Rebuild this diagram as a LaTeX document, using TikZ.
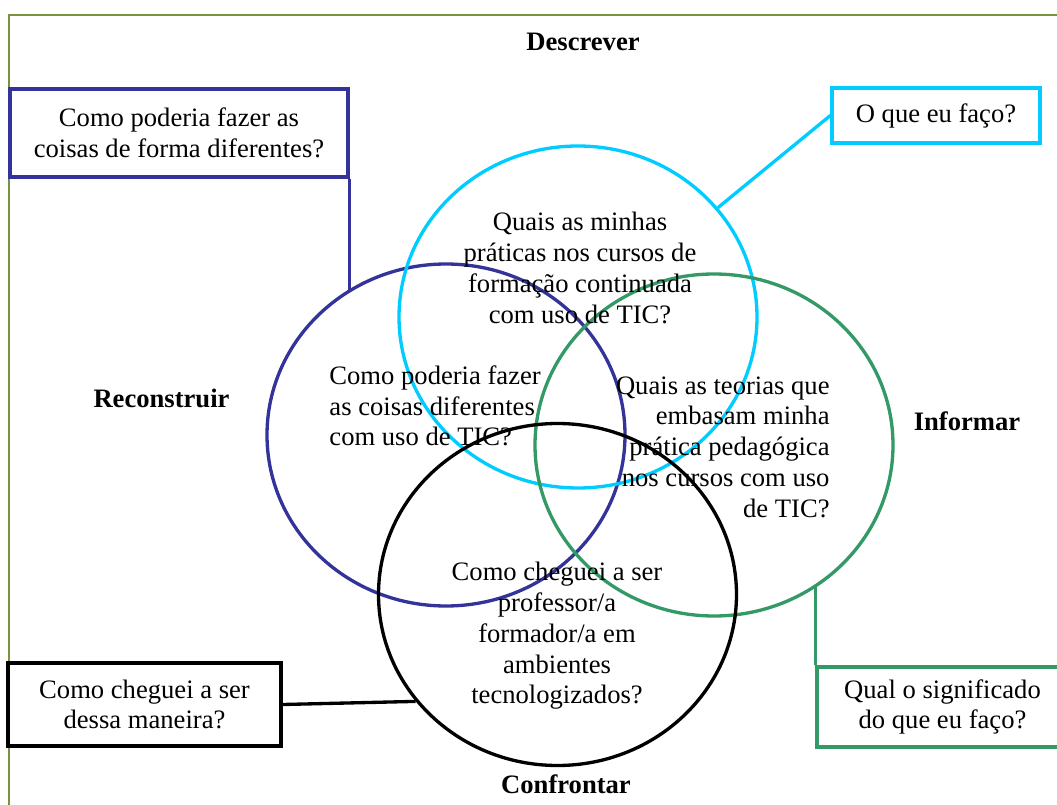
\documentclass[tikz,border=0pt]{standalone}
\usepackage{fontspec}
\setmainfont{Liberation Serif}
\usetikzlibrary{shapes.geometric}
\definecolor{indigo}{HTML}{333399}
\definecolor{sky}{HTML}{00CCFF}
\definecolor{jade}{HTML}{339966}
\definecolor{moss}{HTML}{77933C}
\newcommand\pxu{0.451pt}

\begin{document}
\begin{tikzpicture}[x=0.451pt, y=-0.451pt,
  txt/.style={font=\fontsize{12}{13.85}\selectfont, inner sep=0pt},
  lbl/.style={font=\fontsize{12}{13.85}\selectfont\bfseries, anchor=base},
  ring/.style={ellipse, draw, line width=1.5pt, inner sep=0pt,
    minimum width=358*\pxu, minimum height=342*\pxu},
  qbox/.style={draw, line width=1.5pt, align=center, inner sep=0pt,
    font=\fontsize{12}{13.85}\selectfont},
  link/.style={line width=1.5pt}]

\useasboundingbox (0,0) rectangle (1057,805);
\clip (0,0) rectangle (1057,805);

% Frame
\draw[moss, line width=1pt] (9,15) rectangle (1080,830);

% The four circles
\node[ring, draw=indigo] (reconring) at (446, 435) {};
\node[ring, draw=sky] (descring) at (578, 317) {};
\node[ring, draw=jade] (inforing) at (714, 445) {};
\node[ring, draw=black] (confring) at (557.5, 594.5) {};

% Labels for the four moves
\node[lbl] (desc) at (583, 51) {Descrever};
\node[lbl] (recon) at (161.5, 407) {Reconstruir};
\node[lbl] (info) at (967, 430) {Informar};
\node[lbl] (conf) at (566, 793) {Confrontar};

% Questions inside the circles
\node[txt, align=center] (descq) at (580, 268) {Quais as minhas\\práticas nos cursos de\\formação continuada\\com uso de TIC?};
\node[txt, align=left, anchor=west] (reconq) at (329, 406) {Como poderia fazer\\as coisas diferentes\\com uso de TIC?};
\node[txt, align=right, anchor=east] (infoq) at (830, 447) {Quais as teorias que\\embasam minha\\prática pedagógica\\nos cursos com uso\\de TIC?};
\node[txt, align=center] (confq) at (557, 636) {Como cheguei a ser\\professor/a\\formador/a em\\ambientes\\tecnologizados?};

% Callout boxes
\node[qbox, draw=indigo, minimum width=338*\pxu, minimum height=88*\pxu] (reconbox) at (179, 133) {Como poderia fazer as\\coisas de forma diferentes?};
\node[qbox, draw=sky, minimum width=208*\pxu, minimum height=55*\pxu] (descbox) at (936, 115.5) {O que eu faço?};
\node[qbox, draw=black, minimum width=273*\pxu, minimum height=83*\pxu] (confbox) at (144.5, 704.5) {Como cheguei a ser\\dessa maneira?};
\node[qbox, draw=jade, minimum width=251*\pxu, minimum height=80*\pxu] (infobox) at (942.5, 707) {Qual o significado\\do que eu faço?};

% Connectors
\draw[link, indigo] (reconbox.south east) -- (reconbox.south east |- reconring.124.6);
\draw[link, sky] (descbox.west) -- (descring.38.7);
\draw[link, black] (confbox.east) -- (confring.-143);
\draw[link, jade] (infobox.north west) -- (infobox.north west |- inforing.-53.7);

\end{tikzpicture}
\end{document}
